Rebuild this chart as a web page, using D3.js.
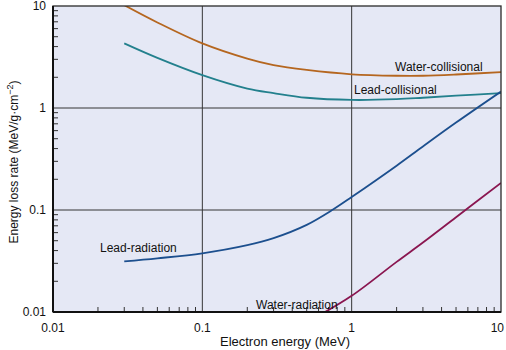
<!DOCTYPE html>
<html>
<head>
<meta charset="utf-8">
<script src="https://cdn.jsdelivr.net/npm/d3@7"></script>
<style>
  html, body { margin: 0; padding: 0; background: #ffffff; }
  svg { display: block; font-family: "Liberation Sans", Arial, Helvetica, sans-serif; }
</style>
</head>
<body>
<svg id="chart" width="506" height="350"></svg>
<script>
// ---- data ----
const collEnergies = [0.03, 0.05, 0.1, 0.2, 0.3, 0.5, 1, 2, 3, 5, 10];
const waterCollisional = [10.2, 6.9, 4.3, 3.05, 2.63, 2.36, 2.14, 2.07, 2.07, 2.13, 2.25];
const leadCollisional = [4.3, 3.1, 2.1, 1.55, 1.4, 1.26, 1.2, 1.22, 1.26, 1.32, 1.4];
const leadRadEnergies = [0.03, 0.05, 0.1, 0.2, 0.3, 0.5, 0.75, 1, 2, 3, 5, 10];
const leadRadiation = [0.0314, 0.0336, 0.0376, 0.0452, 0.053, 0.0715, 0.101, 0.134, 0.272, 0.42, 0.72, 1.45];
const waterRadEnergies = [0.6, 1, 2, 3, 5, 10];
const waterRadiation = [0.0092, 0.0144, 0.031, 0.048, 0.085, 0.184];
const xTickLabels = ["0.01", "0.1", "1", "10"];
const yTickLabels = ["0.01", "0.1", "1", "10"];
const seriesNames = ["Water-collisional", "Lead-collisional", "Lead-radiation", "Water-radiation"];

// ---- layout ----
const svg = d3.select("#chart");
const L = 53, R = 501, T = 6, B = 312;
const x = d3.scaleLog().domain([0.01, 10]).range([L, R]);
const y = d3.scaleLog().domain([0.01, 10]).range([B, T]);

svg.append("defs").append("clipPath").attr("id", "plotclip")
  .append("rect").attr("x", L).attr("y", T).attr("width", R - L).attr("height", B - T);

// background
svg.append("rect").attr("x", L).attr("y", T).attr("width", R - L).attr("height", B - T)
  .attr("fill", "#e5e8f5");

// grid lines at interior decades
const decades = [0.01, 0.1, 1, 10];
svg.append("g").selectAll("line").data(decades.slice(1, 3)).join("line")
  .attr("x1", d => x(d)).attr("x2", d => x(d)).attr("y1", T).attr("y2", B)
  .attr("stroke", "#353535").attr("stroke-width", 1);
svg.append("g").selectAll("line").data(decades.slice(1, 3)).join("line")
  .attr("y1", d => y(d)).attr("y2", d => y(d)).attr("x1", L).attr("x2", R)
  .attr("stroke", "#353535").attr("stroke-width", 1);

// minor ticks (inside)
const minor = [];
[0.01, 0.1, 1].forEach(dec => { for (let k = 2; k <= 9; k++) minor.push(dec * k); });
svg.append("g").selectAll("line").data(minor).join("line")
  .attr("x1", L).attr("x2", L + 5).attr("y1", d => y(d)).attr("y2", d => y(d))
  .attr("stroke", "#333").attr("stroke-width", 1);
svg.append("g").selectAll("line").data(minor).join("line")
  .attr("y1", B).attr("y2", B - 5).attr("x1", d => x(d)).attr("x2", d => x(d))
  .attr("stroke", "#333").attr("stroke-width", 1);

// curves
const line = d3.line().curve(d3.curveCatmullRom.alpha(0.5));
const series = [
  { e: collEnergies, v: waterCollisional, color: "#b5661f" },
  { e: collEnergies, v: leadCollisional, color: "#23808d" },
  { e: leadRadEnergies, v: leadRadiation, color: "#1c4f8e" },
  { e: waterRadEnergies, v: waterRadiation, color: "#8a1650" }
];
const gCurves = svg.append("g").attr("clip-path", "url(#plotclip)");
series.forEach(s => {
  gCurves.append("path")
    .attr("d", line(s.e.map((e, i) => [x(e), y(s.v[i])])))
    .attr("fill", "none").attr("stroke", s.color).attr("stroke-width", 1.8);
});

// frame
svg.append("rect").attr("x", L).attr("y", T).attr("width", R - L).attr("height", B - T)
  .attr("fill", "none").attr("stroke", "#2a2a2a").attr("stroke-width", 1.3);
svg.append("line").attr("x1", L).attr("x2", L).attr("y1", T).attr("y2", B)
  .attr("stroke", "#111").attr("stroke-width", 2);
svg.append("line").attr("x1", L).attr("x2", R).attr("y1", B).attr("y2", B)
  .attr("stroke", "#111").attr("stroke-width", 2);

// tick labels
svg.append("g").selectAll("text").data(decades).join("text")
  .attr("x", L - 7).attr("y", d => y(d)).attr("dy", "0.35em")
  .attr("text-anchor", "end").attr("font-size", 12).attr("fill", "#111")
  .text((d, i) => yTickLabels[i]);
svg.append("g").selectAll("text").data(decades).join("text")
  .attr("x", (d, i) => i === decades.length - 1 ? x(d) + 3 : x(d))
  .attr("y", B + 20)
  .attr("text-anchor", (d, i) => i === decades.length - 1 ? "end" : "middle")
  .attr("font-size", 12).attr("fill", "#111")
  .text((d, i) => xTickLabels[i]);

// axis titles
svg.append("text").attr("x", 285).attr("y", 346).attr("text-anchor", "middle")
  .attr("font-size", 13).attr("fill", "#111").text("Electron energy (MeV)");
const yt = svg.append("text").attr("transform", "translate(18,162) rotate(-90)")
  .attr("text-anchor", "middle").attr("font-size", 12).attr("fill", "#111");
yt.append("tspan").text("Energy loss rate (MeV/g\u00B7cm");
yt.append("tspan").attr("dy", -5).attr("font-size", 9).text("\u22122");
yt.append("tspan").attr("dy", 5).text(")");

// series labels
const labelPos = [[395, 71], [354, 94], [100, 252], [256, 309]];
svg.append("g").selectAll("text").data(seriesNames).join("text")
  .attr("x", (d, i) => labelPos[i][0]).attr("y", (d, i) => labelPos[i][1])
  .attr("font-size", 12).attr("fill", "#111").text(d => d);
</script>
</body>
</html>
